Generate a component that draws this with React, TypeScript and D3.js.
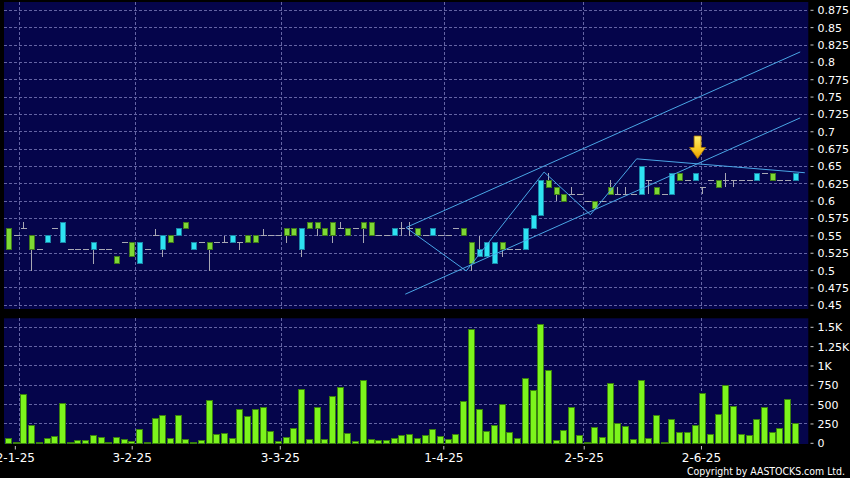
import { useMemo } from "react"
import * as d3 from "d3"

// Daily OHLC (cyan = up day, green = down day, flat = no change)
const opens = [
  0.56, 0.55, 0.56, 0.55, 0.53, 0.54, 0.56, 0.54, 0.53, 0.53, 0.53, 0.53, 0.53, 0.53, 0.52, 0.54, 0.54, 0.51, 0.53, 0.55,
  0.53, 0.55, 0.55, 0.57, 0.53, 0.54, 0.54, 0.54, 0.54, 0.54, 0.54, 0.55, 0.55, 0.55, 0.55, 0.55, 0.56, 0.56, 0.53, 0.57,
  0.57, 0.56, 0.57, 0.56, 0.56, 0.56, 0.57, 0.57, 0.55, 0.55, 0.55, 0.56, 0.56, 0.56, 0.55, 0.55, 0.55, 0.55, 0.56, 0.56,
  0.54, 0.52, 0.52, 0.51, 0.54, 0.53, 0.53, 0.53, 0.56, 0.58, 0.63, 0.62, 0.61, 0.61, 0.61, 0.6, 0.6, 0.6, 0.62, 0.61,
  0.61, 0.61, 0.61, 0.63, 0.62, 0.61, 0.61, 0.64, 0.63, 0.63, 0.62, 0.63, 0.63, 0.63, 0.63, 0.63, 0.63, 0.63, 0.64, 0.64,
  0.63, 0.63, 0.63,
]
const highs = [
  0.56, 0.55, 0.57, 0.55, 0.53, 0.55, 0.56, 0.57, 0.53, 0.53, 0.53, 0.54, 0.53, 0.53, 0.52, 0.54, 0.54, 0.54, 0.53, 0.56,
  0.55, 0.55, 0.56, 0.57, 0.54, 0.54, 0.54, 0.54, 0.55, 0.55, 0.54, 0.55, 0.55, 0.56, 0.55, 0.55, 0.56, 0.56, 0.56, 0.57,
  0.57, 0.56, 0.57, 0.57, 0.56, 0.56, 0.57, 0.57, 0.55, 0.55, 0.56, 0.57, 0.57, 0.56, 0.55, 0.56, 0.55, 0.55, 0.56, 0.56,
  0.54, 0.55, 0.54, 0.54, 0.54, 0.53, 0.53, 0.56, 0.58, 0.63, 0.64, 0.62, 0.61, 0.62, 0.61, 0.6, 0.6, 0.6, 0.63, 0.62,
  0.62, 0.61, 0.65, 0.63, 0.62, 0.61, 0.64, 0.64, 0.63, 0.64, 0.62, 0.63, 0.63, 0.64, 0.63, 0.63, 0.63, 0.64, 0.64, 0.64,
  0.63, 0.63, 0.64,
]
const lows = [
  0.53, 0.55, 0.56, 0.5, 0.53, 0.54, 0.56, 0.54, 0.53, 0.53, 0.53, 0.51, 0.53, 0.53, 0.51, 0.54, 0.52, 0.51, 0.53, 0.55,
  0.52, 0.54, 0.55, 0.56, 0.53, 0.54, 0.5, 0.54, 0.54, 0.54, 0.53, 0.54, 0.54, 0.55, 0.55, 0.55, 0.54, 0.55, 0.52, 0.56,
  0.55, 0.55, 0.54, 0.56, 0.55, 0.56, 0.54, 0.55, 0.55, 0.55, 0.55, 0.55, 0.55, 0.55, 0.55, 0.55, 0.55, 0.55, 0.56, 0.55,
  0.5, 0.52, 0.52, 0.51, 0.52, 0.53, 0.53, 0.53, 0.56, 0.58, 0.62, 0.6, 0.6, 0.61, 0.61, 0.6, 0.59, 0.6, 0.61, 0.61,
  0.61, 0.61, 0.61, 0.61, 0.61, 0.61, 0.61, 0.63, 0.63, 0.63, 0.61, 0.63, 0.62, 0.62, 0.62, 0.63, 0.63, 0.63, 0.64, 0.63,
  0.63, 0.63, 0.63,
]
const closes = [
  0.53, 0.55, 0.56, 0.53, 0.53, 0.55, 0.56, 0.57, 0.53, 0.53, 0.53, 0.54, 0.53, 0.53, 0.51, 0.54, 0.52, 0.54, 0.53, 0.55,
  0.55, 0.54, 0.56, 0.56, 0.54, 0.54, 0.53, 0.54, 0.54, 0.55, 0.54, 0.54, 0.54, 0.55, 0.55, 0.55, 0.55, 0.55, 0.56, 0.56,
  0.56, 0.55, 0.55, 0.56, 0.55, 0.56, 0.56, 0.55, 0.55, 0.55, 0.56, 0.56, 0.56, 0.55, 0.55, 0.56, 0.55, 0.55, 0.56, 0.55,
  0.51, 0.53, 0.54, 0.54, 0.53, 0.53, 0.53, 0.56, 0.58, 0.63, 0.62, 0.61, 0.6, 0.61, 0.61, 0.6, 0.59, 0.6, 0.61, 0.61,
  0.61, 0.61, 0.65, 0.63, 0.61, 0.61, 0.64, 0.63, 0.63, 0.64, 0.62, 0.63, 0.62, 0.63, 0.63, 0.63, 0.63, 0.64, 0.64, 0.63,
  0.63, 0.63, 0.64,
]
// Daily turnover (shares, thousands)
const volumes = [
  60, 15, 630, 226, 3, 57, 83, 513, 3, 35, 35, 96, 74, 0, 78, 43, 22, 174, 3, 326,
  365, 57, 365, 43, 3, 30, 557, 113, 126, 65, 435, 348, 439, 461, 157, 26, 78, 187, 691, 43,
  457, 52, 604, 717, 122, 17, 809, 43, 30, 39, 57, 104, 113, 57, 96, 174, 91, 43, 117, 543,
  1474, 435, 148, 226, 504, 135, 57, 839, 678, 1539, 943, 30, 165, 457, 100, 10, 204, 78, 774, 252,
  217, 52, 817, 57, 365, 0, 304, 139, 143, 235, 643, 113, 378, 748, 470, 113, 100, 304, 465, 143,
  187, 561, 261,
]

// month markers, as (fractional) bar index
const dateLabels = ["2-1-25", "3-2-25", "3-3-25", "1-4-25", "2-5-25", "2-6-25"]
const labelIdx = [0.95, 16.1, 35.3, 56.5, 74.7, 89.9]
const gridIdx = [1.46, 16.5, 35.43, 56.56, 74.63, 89.84]

const priceTicks = d3.range(0.45, 0.8751, 0.025).map((v) => +v.toFixed(3))
const volTicks = [0, 250, 500, 750, 1000, 1250, 1500]
const volTickLabels = ["0", "250", "500", "750", "1K", "1.25K", "1.5K"]

// drawn studies: [barIndex, price]
const upperChannel: [number, number][] = [[51.6, 0.562], [102.7, 0.815]]
const lowerChannel: [number, number][] = [[51.5, 0.466], [102.7, 0.72]]
const zigzag: [number, number][] = [
  [51.6, 0.562], [59.4, 0.4995], [69.5, 0.642], [75.5, 0.5805], [81.5, 0.661], [103.3, 0.641],
]
const arrowAt: [number, number] = [89.4, 0.6615]

const W = 850
const H = 478
const BG = "#05054b"
const GRID = "#6464a4"
const UP = "#2ee2f2"
const UP_EDGE = "#1a86a8"
const DOWN = "#7ed834"
const DOWN_EDGE = "#3f7a1c"
const VOL = "#7cf41c"
const VOL_EDGE = "#3a8010"
const WICK = "#a8a8b4"
const STUDY = "#4aa6e6"
const FONT = "DejaVu Sans, Verdana, sans-serif"

const P = { left: 4, right: 808.3, pTop: 2, pBottom: 309, vTop: 318.3, vBottom: 444 }

export default function App() {
  const x = useMemo(() => d3.scaleLinear().domain([0, volumes.length - 1]).range([8, 794.8]), [])
  const yP = useMemo(() => d3.scaleLinear().domain([0.45, 0.875]).range([305.3, 10.3]), [])
  const yV = useMemo(() => d3.scaleLinear().domain([0, 1500]).range([443.3, 327.3]), [])
  const line = d3.line<[number, number]>().x((d) => x(d[0])).y((d) => yP(d[1]))

  const ax = x(arrowAt[0])
  const ay = yP(arrowAt[1])

  return (
    <div style={{ position: "fixed", left: 0, top: 0, width: W, height: H, background: "#000" }}>
      <svg width={W} height={H} viewBox={`0 0 ${W} ${H}`} style={{ display: "block" }}>
        <defs>
          <linearGradient id="arrowFill" x1="0" y1="0" x2="0" y2="1">
            <stop offset="0" stopColor="#fff070" />
            <stop offset="0.6" stopColor="#f8c820" />
            <stop offset="1" stopColor="#e89a00" />
          </linearGradient>
        </defs>
        <rect width={W} height={H} fill="#000" />

        {/* panels */}
        <rect x={P.left} y={P.pTop} width={P.right - P.left} height={P.pBottom - P.pTop} fill={BG} />
        <rect x={P.left} y={P.vTop} width={P.right - P.left} height={P.vBottom - P.vTop} fill={BG} />

        {/* grid */}
        <g stroke={GRID} strokeWidth={1} strokeDasharray="2.5,2.5" shapeRendering="crispEdges">
          {priceTicks.map((t) => (
            <line key={`p${t}`} x1={P.left} x2={P.right} y1={yP(t)} y2={yP(t)} />
          ))}
          {volTicks.slice(1).map((t) => (
            <line key={`v${t}`} x1={P.left} x2={P.right} y1={yV(t)} y2={yV(t)} />
          ))}
          {gridIdx.map((g) => (
            <g key={`g${g}`}>
              <line x1={x(g)} x2={x(g)} y1={P.pTop} y2={P.pBottom} />
              <line x1={x(g)} x2={x(g)} y1={P.vTop} y2={P.vBottom} />
            </g>
          ))}
        </g>

        {/* candles */}
        <g shapeRendering="crispEdges">
          {closes.map((c, i) => {
            const o = opens[i]
            const cx = Math.round(x(i)) + 0.5
            const wick =
              highs[i] !== lows[i] ? (
                <line x1={cx} x2={cx} y1={yP(highs[i])} y2={yP(lows[i])} stroke={WICK} />
              ) : null
            if (o === c) {
              return (
                <g key={i}>
                  {wick}
                  <line x1={cx - 3} x2={cx + 3} y1={yP(c)} y2={yP(c)} stroke={WICK} />
                </g>
              )
            }
            const up = c > o
            const top = yP(Math.max(o, c))
            const bot = yP(Math.min(o, c))
            return (
              <g key={i}>
                {wick}
                <rect
                  x={cx - 2.5}
                  y={top}
                  width={5}
                  height={bot - top}
                  fill={up ? UP : DOWN}
                  stroke={up ? UP_EDGE : DOWN_EDGE}
                />
              </g>
            )
          })}
        </g>

        {/* trend studies */}
        <g fill="none" stroke={STUDY} strokeWidth={1}>
          <path d={line(upperChannel) ?? undefined} />
          <path d={line(lowerChannel) ?? undefined} />
          <path d={line(zigzag) ?? undefined} strokeLinejoin="miter" />
        </g>

        {/* marker arrow */}
        <path
          d={`M${ax - 3.5},${ay - 22.5} L${ax + 3.5},${ay - 22.5} L${ax + 3.5},${ay - 11} L${ax + 8},${ay - 11} L${ax},${ay} L${ax - 8},${ay - 11} L${ax - 3.5},${ay - 11} Z`}
          fill="url(#arrowFill)"
          stroke="#b07a00"
          strokeWidth={0.8}
          strokeLinejoin="round"
        />

        {/* volume */}
        <g shapeRendering="crispEdges">
          {volumes.map((v, i) => {
            const cx = Math.round(x(i))
            const top = yV(v)
            return (
              <rect
                key={i}
                x={cx - 3}
                y={Math.min(top, yV(0) - 1)}
                width={6}
                height={Math.max(yV(0) - top, 1)}
                fill={VOL}
                stroke={VOL_EDGE}
              />
            )
          })}
        </g>

        {/* right axes */}
        <g fontFamily={FONT} fontSize={11} fill="#fff">
          {priceTicks.map((t) => (
            <g key={`pl${t}`}>
              <line x1={810.5} x2={813.5} y1={yP(t)} y2={yP(t)} stroke="#c8c8c8" />
              <text x={817.5} y={yP(t)} dy="0.36em">
                {String(t)}
              </text>
            </g>
          ))}
          {volTicks.map((t, i) => (
            <g key={`vl${t}`}>
              <line x1={810.5} x2={813.5} y1={yV(t)} y2={yV(t)} stroke="#c8c8c8" />
              <text x={817.5} y={yV(t)} dy="0.36em">
                {volTickLabels[i]}
              </text>
            </g>
          ))}
        </g>

        {/* date axis */}
        <g fontFamily={FONT} fontSize={12} fill="#fff">
          {dateLabels.map((d, i) => (
            <g key={d}>
              <line x1={x(labelIdx[i])} x2={x(labelIdx[i])} y1={446} y2={449.5} stroke="#c8c8c8" />
              <text x={x(labelIdx[i])} y={462} textAnchor="middle">
                {d}
              </text>
            </g>
          ))}
        </g>

        <text
          x={845}
          y={474.5}
          textAnchor="end"
          fontFamily={FONT}
          fontSize={10.8}
          fill="#fff"
          textLength={158}
          lengthAdjust="spacingAndGlyphs"
        >
          Copyright by AASTOCKS.com Ltd.
        </text>
      </svg>
    </div>
  )
}
